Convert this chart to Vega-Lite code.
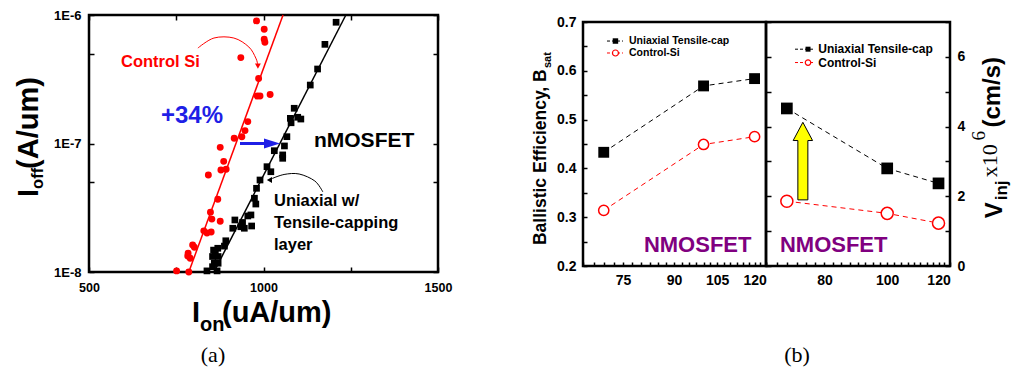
{
  "$schema": "https://vega.github.io/schema/vega-lite/v6.json",
  "background": "#ffffff",
  "padding": {"left": 13, "top": 7, "right": 5, "bottom": 5},
  "spacing": 145,
  "bounds": "flush",
  "config": {
    "view": {"stroke": "#000000", "strokeWidth": 2.5},
    "axis": {"domain": false, "grid": false, "tickColor": "#000000", "tickWidth": 1.5, "labelColor": "#000000", "labelFont": "Liberation Sans", "labelFontWeight": "bold", "labelFlush": false, "labelOverlap": false},
    "text": {"font": "Liberation Sans", "fontWeight": "bold"}
  },
  "datasets": {
    "ctrlPts": [
      {"ion": 980, "ioff": 9.0e-7}, {"ion": 1002, "ioff": 7.74e-7}, {"ion": 1002, "ioff": 6.47e-7}, {"ion": 1004, "ioff": 6.13e-7},
      {"ion": 935, "ioff": 4.66e-7}, {"ion": 986, "ioff": 3.21e-7}, {"ion": 982, "ioff": 2.34e-7}, {"ion": 990, "ioff": 2.34e-7},
      {"ion": 1019, "ioff": 2.41e-7}, {"ion": 955, "ioff": 1.48e-7}, {"ion": 947, "ioff": 1.26e-7}, {"ion": 938, "ioff": 1.13e-7},
      {"ion": 916, "ioff": 1.10e-7}, {"ion": 876, "ioff": 9.33e-8}, {"ion": 886, "ioff": 7.26e-8}, {"ion": 878, "ioff": 6.22e-8},
      {"ion": 893, "ioff": 6.30e-8}, {"ion": 842, "ioff": 5.69e-8}, {"ion": 869, "ioff": 3.68e-8}, {"ion": 848, "ioff": 2.92e-8},
      {"ion": 852, "ioff": 2.58e-8}, {"ion": 876, "ioff": 2.48e-8}, {"ion": 829, "ioff": 2.09e-8}, {"ion": 838, "ioff": 2.01e-8},
      {"ion": 850, "ioff": 2.05e-8}, {"ion": 797, "ioff": 1.62e-8}, {"ion": 802, "ioff": 1.56e-8}, {"ion": 784, "ioff": 1.40e-8},
      {"ion": 783, "ioff": 1.33e-8}, {"ion": 790, "ioff": 1.28e-8}, {"ion": 751, "ioff": 1.02e-8}, {"ion": 786, "ioff": 1.0e-8}
    ],
    "tensPts": [
      {"ion": 1208, "ioff": 8.78e-7}, {"ion": 1176, "ioff": 5.91e-7}, {"ion": 1155, "ioff": 3.80e-7}, {"ion": 1134, "ioff": 2.85e-7},
      {"ion": 1088, "ioff": 1.88e-7}, {"ion": 1077, "ioff": 1.57e-7}, {"ion": 1079, "ioff": 1.45e-7}, {"ion": 1098, "ioff": 1.60e-7},
      {"ion": 1107, "ioff": 1.55e-7}, {"ion": 1067, "ioff": 1.13e-7}, {"ion": 1060, "ioff": 9.57e-8}, {"ion": 1055, "ioff": 8.15e-8},
      {"ion": 1055, "ioff": 7.67e-8}, {"ion": 1031, "ioff": 8.79e-8}, {"ion": 1010, "ioff": 6.60e-8}, {"ion": 1021, "ioff": 6.03e-8},
      {"ion": 990, "ioff": 5.20e-8}, {"ion": 980, "ioff": 4.48e-8}, {"ion": 974, "ioff": 3.75e-8}, {"ion": 978, "ioff": 3.38e-8},
      {"ion": 964, "ioff": 2.78e-8}, {"ion": 955, "ioff": 2.73e-8}, {"ion": 966, "ioff": 2.28e-8}, {"ion": 940, "ioff": 2.43e-8},
      {"ion": 935, "ioff": 2.25e-8}, {"ion": 918, "ioff": 2.54e-8}, {"ion": 945, "ioff": 2.19e-8}, {"ion": 912, "ioff": 2.19e-8},
      {"ion": 892, "ioff": 1.75e-8}, {"ion": 888, "ioff": 1.59e-8}, {"ion": 869, "ioff": 1.53e-8}, {"ion": 857, "ioff": 1.48e-8},
      {"ion": 862, "ioff": 1.40e-8}, {"ion": 854, "ioff": 1.32e-8}, {"ion": 870, "ioff": 1.32e-8}, {"ion": 859, "ioff": 1.17e-8},
      {"ion": 870, "ioff": 1.17e-8}, {"ion": 854, "ioff": 1.10e-8}, {"ion": 838, "ioff": 1.02e-8}, {"ion": 867, "ioff": 1.02e-8}
    ],
    "fits": [
      {"grp": "ctrl", "ion": 786, "ioff": 1e-8}, {"grp": "ctrl", "ion": 1056, "ioff": 1e-6},
      {"grp": "tens", "ion": 858, "ioff": 1e-8}, {"grp": "tens", "ion": 1236, "ioff": 1e-6}
    ],
    "curves": [
      {"grp": "ctrl", "ord": 1, "ion": 812, "ioff": 5.53e-7}, {"grp": "ctrl", "ord": 2, "ion": 858, "ioff": 6.62e-7},
      {"grp": "ctrl", "ord": 3, "ion": 915, "ioff": 6.62e-7}, {"grp": "ctrl", "ord": 4, "ion": 958, "ioff": 5.64e-7},
      {"grp": "ctrl", "ord": 5, "ion": 978, "ioff": 4.62e-7}, {"grp": "ctrl", "ord": 6, "ion": 983, "ioff": 4.15e-7},
      {"grp": "tens", "ord": 1, "ion": 1170, "ioff": 4.2e-8}, {"grp": "tens", "ord": 2, "ion": 1147, "ioff": 5.11e-8},
      {"grp": "tens", "ord": 3, "ion": 1102, "ioff": 5.79e-8}, {"grp": "tens", "ord": 4, "ion": 1059, "ioff": 5.74e-8},
      {"grp": "tens", "ord": 5, "ion": 1022, "ioff": 5.3e-8}
    ],
    "bsat": [
      {"grp": "tens", "lg": 70, "val": 0.433}, {"grp": "tens", "lg": 100, "val": 0.569}, {"grp": "tens", "lg": 120, "val": 0.584},
      {"grp": "ctrl", "lg": 70, "val": 0.314}, {"grp": "ctrl", "lg": 100, "val": 0.449}, {"grp": "ctrl", "lg": 120, "val": 0.465}
    ],
    "vinj": [
      {"grp": "tens", "lg": 70, "val": 4.52}, {"grp": "tens", "lg": 100, "val": 2.8}, {"grp": "tens", "lg": 120, "val": 2.37},
      {"grp": "ctrl", "lg": 70, "val": 1.86}, {"grp": "ctrl", "lg": 100, "val": 1.51}, {"grp": "ctrl", "lg": 120, "val": 1.23}
    ]
  },
  "hconcat": [
    {
      "width": 349,
      "height": 257,
      "resolve": {"axis": {"x": "independent", "y": "independent"}},
      "layer": [
        {
          "data": {"name": "fits"},
          "mark": {"type": "line", "strokeWidth": 1.5},
          "encoding": {
            "x": {"field": "ion", "type": "quantitative", "scale": {"domain": [500, 1500], "nice": false, "zero": false},
                  "axis": {"orient": "bottom", "values": [500, 750, 1000, 1250, 1500], "labelExpr": "datum.value % 500 == 0 ? format(datum.value, 'd') : ''", "tickSize": -5, "labelPadding": 14, "labelFontSize": 12.5, "title": null}},
            "y": {"field": "ioff", "type": "quantitative", "scale": {"type": "log", "domain": [1e-8, 1e-6], "nice": false},
                  "axis": {"orient": "left", "values": [1e-8, 5e-8, 1e-7, 5e-7, 1e-6], "labelExpr": "abs(log(datum.value)/LN10 - round(log(datum.value)/LN10)) < 0.01 ? '1E' + round(log(datum.value)/LN10) : ''", "tickSize": -5, "labelPadding": 13, "labelFontSize": 13, "title": null}},
            "color": {"field": "grp", "type": "nominal", "scale": {"domain": ["ctrl", "tens"], "range": ["#ff0000", "#000000"]}, "legend": null}
          }
        },
        {
          "data": {"name": "ctrlPts"},
          "mark": {"type": "circle", "color": "#ff0000", "size": 48, "opacity": 1},
          "encoding": {
            "x": {"field": "ion", "type": "quantitative", "axis": {"orient": "top", "values": [500, 750, 1000, 1250, 1500], "labels": false, "tickSize": -5, "title": null}},
            "y": {"field": "ioff", "type": "quantitative", "axis": {"orient": "right", "values": [1e-8, 5e-8, 1e-7, 5e-7, 1e-6], "labels": false, "tickSize": -5, "title": null}}
          }
        },
        {
          "data": {"name": "tensPts"},
          "mark": {"type": "square", "color": "#000000", "size": 45, "opacity": 1},
          "encoding": {
            "x": {"field": "ion", "type": "quantitative", "axis": null},
            "y": {"field": "ioff", "type": "quantitative", "axis": null}
          }
        },
        {
          "data": {"name": "curves"},
          "mark": {"type": "line", "interpolate": "cardinal", "strokeWidth": 1},
          "encoding": {
            "x": {"field": "ion", "type": "quantitative", "axis": null},
            "y": {"field": "ioff", "type": "quantitative", "axis": null},
            "order": {"field": "ord"},
            "color": {"field": "grp", "type": "nominal", "legend": null}
          }
        },
        {
          "data": {"values": [{}]},
          "mark": {"type": "point", "shape": "triangle-down", "filled": true, "color": "#ff0000", "size": 35, "opacity": 1},
          "encoding": {"x": {"datum": 984, "type": "quantitative", "axis": null}, "y": {"datum": 4.0e-7, "type": "quantitative", "axis": null}}
        },
        {
          "data": {"values": [{}]},
          "mark": {"type": "point", "shape": "triangle-left", "filled": true, "color": "#000000", "size": 35, "opacity": 1},
          "encoding": {"x": {"datum": 1017, "type": "quantitative", "axis": null}, "y": {"datum": 5.2e-8, "type": "quantitative", "axis": null}}
        },
        {
          "data": {"values": [{}]},
          "mark": {"type": "point", "shape": "M-1,-0.07 L0.2,-0.07 L0.2,-0.25 L1,0 L0.2,0.25 L0.2,0.07 L-1,0.07 Z", "filled": true, "color": "#1f1fe6", "size": 1600, "opacity": 1},
          "encoding": {"x": {"datum": 990, "type": "quantitative", "axis": null}, "y": {"datum": 1e-7, "type": "quantitative", "axis": null}}
        },
        {
          "data": {"values": [{}]},
          "mark": {"type": "text", "text": "Control Si", "align": "left", "baseline": "alphabetic", "fontSize": 16.5, "color": "#ff0000"},
          "encoding": {"x": {"datum": 591.7, "type": "quantitative", "axis": null}, "y": {"datum": 3.94e-7, "type": "quantitative", "axis": null}}
        },
        {
          "data": {"values": [{}]},
          "mark": {"type": "text", "text": "+34%", "align": "left", "baseline": "alphabetic", "fontSize": 24, "color": "#1f1fe6"},
          "encoding": {"x": {"datum": 706.3, "type": "quantitative", "axis": null}, "y": {"datum": 1.445e-7, "type": "quantitative", "axis": null}}
        },
        {
          "data": {"values": [{}]},
          "mark": {"type": "text", "text": "nMOSFET", "align": "left", "baseline": "alphabetic", "fontSize": 21, "color": "#000000"},
          "encoding": {"x": {"datum": 1144.6, "type": "quantitative", "axis": null}, "y": {"datum": 9.4e-8, "type": "quantitative", "axis": null}}
        },
        {
          "data": {"values": [{}]},
          "mark": {"type": "text", "text": "Uniaxial  w/", "align": "left", "baseline": "alphabetic", "fontSize": 16.5, "color": "#000000"},
          "encoding": {"x": {"datum": 1030, "type": "quantitative", "axis": null}, "y": {"datum": 3.27e-8, "type": "quantitative", "axis": null}}
        },
        {
          "data": {"values": [{}]},
          "mark": {"type": "text", "text": "Tensile-capping", "align": "left", "baseline": "alphabetic", "fontSize": 16.5, "color": "#000000"},
          "encoding": {"x": {"datum": 1030, "type": "quantitative", "axis": null}, "y": {"datum": 2.2e-8, "type": "quantitative", "axis": null}}
        },
        {
          "data": {"values": [{}]},
          "mark": {"type": "text", "text": "layer", "align": "left", "baseline": "alphabetic", "fontSize": 16.5, "color": "#000000"},
          "encoding": {"x": {"datum": 1030, "type": "quantitative", "axis": null}, "y": {"datum": 1.48e-8, "type": "quantitative", "axis": null}}
        },
        {
          "data": {"values": [{}]},
          "mark": {"type": "text", "text": "I", "align": "left", "baseline": "alphabetic", "angle": 270, "fontSize": 29, "color": "#000000"},
          "encoding": {"x": {"datum": 353.9, "type": "quantitative", "axis": null}, "y": {"datum": 3.84e-8, "type": "quantitative", "axis": null}}
        },
        {
          "data": {"values": [{}]},
          "mark": {"type": "text", "text": "off", "align": "left", "baseline": "alphabetic", "angle": 270, "fontSize": 16.5, "color": "#000000"},
          "encoding": {"x": {"datum": 368.2, "type": "quantitative", "axis": null}, "y": {"datum": 4.43e-8, "type": "quantitative", "axis": null}}
        },
        {
          "data": {"values": [{}]},
          "mark": {"type": "text", "text": "(A/um)", "align": "left", "baseline": "alphabetic", "angle": 270, "fontSize": 29, "color": "#000000"},
          "encoding": {"x": {"datum": 353.9, "type": "quantitative", "axis": null}, "y": {"datum": 6.34e-8, "type": "quantitative", "axis": null}}
        },
        {
          "data": {"values": [{}]},
          "mark": {"type": "text", "text": "I", "align": "left", "baseline": "alphabetic", "fontSize": 29, "color": "#000000"},
          "encoding": {"x": {"datum": 795.1, "type": "quantitative", "axis": null}, "y": {"datum": 4.08e-9, "type": "quantitative", "axis": null}}
        },
        {
          "data": {"values": [{}]},
          "mark": {"type": "text", "text": "on", "align": "left", "baseline": "alphabetic", "fontSize": 20, "color": "#000000"},
          "encoding": {"x": {"datum": 818, "type": "quantitative", "axis": null}, "y": {"datum": 3.48e-9, "type": "quantitative", "axis": null}}
        },
        {
          "data": {"values": [{}]},
          "mark": {"type": "text", "text": "(uA/um)", "align": "left", "baseline": "alphabetic", "fontSize": 29, "color": "#000000"},
          "encoding": {"x": {"datum": 881, "type": "quantitative", "axis": null}, "y": {"datum": 4.08e-9, "type": "quantitative", "axis": null}}
        },
        {
          "data": {"values": [{}]},
          "mark": {"type": "text", "text": "(a)", "align": "center", "baseline": "middle", "font": "Liberation Serif", "fontWeight": "normal", "fontSize": 22, "color": "#000000"},
          "encoding": {"x": {"datum": 855.3, "type": "quantitative", "axis": null}, "y": {"datum": 2.26e-9, "type": "quantitative", "axis": null}}
        }
      ]
    },
    {
      "spacing": 6,
      "bounds": "flush",
      "vconcat": [
        {
          "width": 367,
          "height": 1,
          "view": {"stroke": null},
          "data": {"values": [{}]},
          "mark": {"type": "text", "text": ""}
        },
        {
          "spacing": 0,
          "bounds": "flush",
          "hconcat": [
            {
              "width": 183,
              "height": 244,
              "resolve": {"axis": {"x": "independent", "y": "independent"}},
              "layer": [
                {
                  "data": {"name": "bsat"},
                  "mark": {"type": "line", "strokeWidth": 1, "strokeDash": [5, 4]},
                  "encoding": {
                    "x": {"field": "lg", "type": "quantitative", "scale": {"type": "log", "domain": [65, 125], "nice": false},
                          "axis": {"orient": "bottom", "values": [65, 67.5, 70, 72.5, 75, 77.5, 80, 82.5, 85, 87.5, 90, 92.5, 95, 97.5, 100, 102.5, 105, 107.5, 110, 112.5, 115, 117.5, 120, 122.5, 125], "labelExpr": "datum.value % 15 == 0 ? format(datum.value, 'd') : ''", "tickSize": -4, "labelPadding": 11, "labelFontSize": 14, "title": null}},
                    "y": {"field": "val", "type": "quantitative", "scale": {"domain": [0.2, 0.7], "nice": false, "zero": false},
                          "axis": {"orient": "left", "values": [0.2, 0.25, 0.3, 0.35, 0.4, 0.45, 0.5, 0.55, 0.6, 0.65, 0.7], "labelExpr": "round(datum.value*100) % 10 == 0 ? format(datum.value, '.1f') : ''", "tickSize": -4, "labelPadding": 11, "labelFontSize": 14, "title": null}},
                    "color": {"field": "grp", "type": "nominal", "scale": {"domain": ["ctrl", "tens"], "range": ["#ff0000", "#000000"]}, "legend": null}
                  }
                },
                {
                  "data": {"name": "bsat"},
                  "transform": [{"filter": "datum.grp == 'tens'"}],
                  "mark": {"type": "square", "color": "#000000", "size": 118, "opacity": 1},
                  "encoding": {"x": {"field": "lg", "type": "quantitative", "axis": null}, "y": {"field": "val", "type": "quantitative", "axis": null}}
                },
                {
                  "data": {"name": "bsat"},
                  "transform": [{"filter": "datum.grp == 'ctrl'"}],
                  "mark": {"type": "point", "shape": "circle", "filled": true, "fill": "#ffffff", "stroke": "#ff0000", "strokeWidth": 1.5, "size": 105, "opacity": 1},
                  "encoding": {"x": {"field": "lg", "type": "quantitative", "axis": null}, "y": {"field": "val", "type": "quantitative", "axis": null}}
                },
                {
                  "data": {"values": [{}]},
                  "mark": {"type": "rule", "color": "#000000", "strokeWidth": 1, "strokeDash": [3, 2]},
                  "encoding": {"x": {"datum": 70.82, "type": "quantitative", "axis": null}, "x2": {"datum": 74.98}, "y": {"datum": 0.661, "type": "quantitative", "axis": null}}
                },
                {
                  "data": {"values": [{}]},
                  "mark": {"type": "square", "color": "#000000", "size": 30, "opacity": 1},
                  "encoding": {"x": {"datum": 72.99, "type": "quantitative", "axis": null}, "y": {"datum": 0.661, "type": "quantitative", "axis": null}}
                },
                {
                  "data": {"values": [{}]},
                  "mark": {"type": "text", "text": "Uniaxial Tensile-cap", "align": "left", "baseline": "middle", "fontSize": 10.5, "color": "#000000"},
                  "encoding": {"x": {"datum": 76.61, "type": "quantitative", "axis": null}, "y": {"datum": 0.661, "type": "quantitative", "axis": null}}
                },
                {
                  "data": {"values": [{}]},
                  "mark": {"type": "rule", "color": "#ff0000", "strokeWidth": 1, "strokeDash": [3, 2]},
                  "encoding": {"x": {"datum": 70.82, "type": "quantitative", "axis": null}, "x2": {"datum": 74.98}, "y": {"datum": 0.6365, "type": "quantitative", "axis": null}}
                },
                {
                  "data": {"values": [{}]},
                  "mark": {"type": "point", "shape": "circle", "filled": true, "fill": "#ffffff", "stroke": "#ff0000", "strokeWidth": 1.2, "size": 36, "opacity": 1},
                  "encoding": {"x": {"datum": 72.99, "type": "quantitative", "axis": null}, "y": {"datum": 0.6365, "type": "quantitative", "axis": null}}
                },
                {
                  "data": {"values": [{}]},
                  "mark": {"type": "text", "text": "Control-Si", "align": "left", "baseline": "middle", "fontSize": 10.5, "color": "#000000"},
                  "encoding": {"x": {"datum": 76.61, "type": "quantitative", "axis": null}, "y": {"datum": 0.6365, "type": "quantitative", "axis": null}}
                },
                {
                  "data": {"values": [{}]},
                  "mark": {"type": "text", "text": "NMOSFET", "align": "left", "baseline": "alphabetic", "fontSize": 22, "color": "#800080"},
                  "encoding": {"x": {"datum": 80.8, "type": "quantitative", "axis": null}, "y": {"datum": 0.2287, "type": "quantitative", "axis": null}}
                },
                {
                  "data": {"values": [{}]},
                  "mark": {"type": "text", "text": "Ballistic Efficiency, B", "align": "left", "baseline": "alphabetic", "angle": 270, "fontSize": 17.5, "color": "#000000"},
                  "encoding": {"x": {"datum": 56.95, "type": "quantitative", "axis": null}, "y": {"datum": 0.243, "type": "quantitative", "axis": null}}
                },
                {
                  "data": {"values": [{}]},
                  "mark": {"type": "text", "text": "sat", "align": "left", "baseline": "alphabetic", "angle": 270, "fontSize": 11, "color": "#000000"},
                  "encoding": {"x": {"datum": 57.98, "type": "quantitative", "axis": null}, "y": {"datum": 0.6057, "type": "quantitative", "axis": null}}
                }
              ]
            },
            {
              "width": 184,
              "height": 244,
              "resolve": {"axis": {"x": "independent", "y": "independent"}},
              "layer": [
                {
                  "data": {"name": "vinj"},
                  "mark": {"type": "line", "strokeWidth": 1, "strokeDash": [5, 4]},
                  "encoding": {
                    "x": {"field": "lg", "type": "quantitative", "scale": {"type": "log", "domain": [65, 125], "nice": false},
                          "axis": {"orient": "bottom", "values": [65, 67.5, 70, 72.5, 75, 77.5, 80, 82.5, 85, 87.5, 90, 92.5, 95, 97.5, 100, 102.5, 105, 107.5, 110, 112.5, 115, 117.5, 120, 122.5, 125], "labelExpr": "datum.value % 20 == 0 ? format(datum.value, 'd') : ''", "tickSize": -4, "labelPadding": 11, "labelFontSize": 14, "title": null}},
                    "y": {"field": "val", "type": "quantitative", "scale": {"domain": [0, 7], "nice": false, "zero": false},
                          "axis": {"orient": "right", "values": [0, 1, 2, 3, 4, 5, 6, 7], "labelExpr": "datum.value % 2 == 0 && datum.value < 7 ? format(datum.value, 'd') : ''", "tickSize": -5, "labelPadding": 12, "labelFontSize": 14, "title": null}},
                    "color": {"field": "grp", "type": "nominal", "scale": {"domain": ["ctrl", "tens"], "range": ["#ff0000", "#000000"]}, "legend": null}
                  }
                },
                {
                  "data": {"name": "vinj"},
                  "transform": [{"filter": "datum.grp == 'tens'"}],
                  "mark": {"type": "square", "color": "#000000", "size": 137, "opacity": 1},
                  "encoding": {
                    "x": {"field": "lg", "type": "quantitative", "axis": null},
                    "y": {"field": "val", "type": "quantitative", "axis": {"orient": "left", "values": [0, 1, 2, 3, 4, 5, 6, 7], "labels": false, "tickSize": -5, "title": null}}
                  }
                },
                {
                  "data": {"name": "vinj"},
                  "transform": [{"filter": "datum.grp == 'ctrl'"}],
                  "mark": {"type": "point", "shape": "circle", "filled": true, "fill": "#ffffff", "stroke": "#ff0000", "strokeWidth": 1.5, "size": 145, "opacity": 1},
                  "encoding": {"x": {"field": "lg", "type": "quantitative", "axis": null}, "y": {"field": "val", "type": "quantitative", "axis": null}}
                },
                {
                  "data": {"values": [{}]},
                  "mark": {"type": "point", "shape": "M0,-1 L0.25,-0.53 L0.129,-0.53 L0.129,1 L-0.129,1 L-0.129,-0.53 L-0.25,-0.53 Z", "filled": true, "fill": "#ffff00", "stroke": "#000000", "strokeWidth": 1, "size": 6020, "opacity": 1},
                  "encoding": {"x": {"datum": 74.1, "type": "quantitative", "axis": null}, "y": {"datum": 3.01, "type": "quantitative", "axis": null}}
                },
                {
                  "data": {"values": [{}]},
                  "mark": {"type": "rule", "color": "#000000", "strokeWidth": 1, "strokeDash": [3, 2]},
                  "encoding": {"x": {"datum": 72.06, "type": "quantitative", "axis": null}, "x2": {"datum": 77.36}, "y": {"datum": 6.22, "type": "quantitative", "axis": null}}
                },
                {
                  "data": {"values": [{}]},
                  "mark": {"type": "square", "color": "#000000", "size": 25, "opacity": 1},
                  "encoding": {"x": {"datum": 75.47, "type": "quantitative", "axis": null}, "y": {"datum": 6.22, "type": "quantitative", "axis": null}}
                },
                {
                  "data": {"values": [{}]},
                  "mark": {"type": "text", "text": "Uniaxial Tensile-cap", "align": "left", "baseline": "middle", "fontSize": 12, "color": "#000000"},
                  "encoding": {"x": {"datum": 78.27, "type": "quantitative", "axis": null}, "y": {"datum": 6.22, "type": "quantitative", "axis": null}}
                },
                {
                  "data": {"values": [{}]},
                  "mark": {"type": "rule", "color": "#ff0000", "strokeWidth": 1, "strokeDash": [3, 2]},
                  "encoding": {"x": {"datum": 72.06, "type": "quantitative", "axis": null}, "x2": {"datum": 77.36}, "y": {"datum": 5.837, "type": "quantitative", "axis": null}}
                },
                {
                  "data": {"values": [{}]},
                  "mark": {"type": "point", "shape": "circle", "filled": true, "fill": "#ffffff", "stroke": "#ff0000", "strokeWidth": 1.2, "size": 30, "opacity": 1},
                  "encoding": {"x": {"datum": 75.47, "type": "quantitative", "axis": null}, "y": {"datum": 5.837, "type": "quantitative", "axis": null}}
                },
                {
                  "data": {"values": [{}]},
                  "mark": {"type": "text", "text": "Control-Si", "align": "left", "baseline": "middle", "fontSize": 12, "color": "#000000"},
                  "encoding": {"x": {"datum": 78.27, "type": "quantitative", "axis": null}, "y": {"datum": 5.837, "type": "quantitative", "axis": null}}
                },
                {
                  "data": {"values": [{}]},
                  "mark": {"type": "text", "text": "NMOSFET", "align": "left", "baseline": "alphabetic", "fontSize": 22, "color": "#800080"},
                  "encoding": {"x": {"datum": 68.3, "type": "quantitative", "axis": null}, "y": {"datum": 0.4, "type": "quantitative", "axis": null}}
                },
                {
                  "data": {"values": [{}]},
                  "mark": {"type": "text", "text": "V", "align": "left", "baseline": "alphabetic", "angle": 270, "fontSize": 24, "color": "#000000"},
                  "encoding": {"x": {"datum": 150.4, "type": "quantitative", "axis": null}, "y": {"datum": 1.371, "type": "quantitative", "axis": null}}
                },
                {
                  "data": {"values": [{}]},
                  "mark": {"type": "text", "text": "inj", "align": "left", "baseline": "alphabetic", "angle": 270, "fontSize": 17, "color": "#000000"},
                  "encoding": {"x": {"datum": 153.1, "type": "quantitative", "axis": null}, "y": {"datum": 1.886, "type": "quantitative", "axis": null}}
                },
                {
                  "data": {"values": [{}]},
                  "mark": {"type": "text", "text": "x10", "align": "left", "baseline": "alphabetic", "angle": 270, "font": "Liberation Serif", "fontWeight": "normal", "fontSize": 22, "color": "#000000"},
                  "encoding": {"x": {"datum": 147.7, "type": "quantitative", "axis": null}, "y": {"datum": 2.543, "type": "quantitative", "axis": null}}
                },
                {
                  "data": {"values": [{}]},
                  "mark": {"type": "text", "text": "6", "align": "left", "baseline": "alphabetic", "angle": 270, "font": "Liberation Serif", "fontWeight": "normal", "fontSize": 19, "color": "#000000"},
                  "encoding": {"x": {"datum": 141.6, "type": "quantitative", "axis": null}, "y": {"datum": 3.6, "type": "quantitative", "axis": null}}
                },
                {
                  "data": {"values": [{}]},
                  "mark": {"type": "text", "text": "(cm/s)", "align": "left", "baseline": "alphabetic", "angle": 270, "fontSize": 24, "color": "#000000"},
                  "encoding": {"x": {"datum": 149.3, "type": "quantitative", "axis": null}, "y": {"datum": 3.971, "type": "quantitative", "axis": null}}
                },
                {
                  "data": {"values": [{}]},
                  "mark": {"type": "text", "text": "(b)", "align": "center", "baseline": "middle", "font": "Liberation Serif", "fontWeight": "normal", "fontSize": 22, "color": "#000000"},
                  "encoding": {"x": {"datum": 72.57, "type": "quantitative", "axis": null}, "y": {"datum": -2.54, "type": "quantitative", "axis": null}}
                }
              ]
            }
          ]
        }
      ]
    }
  ]
}
